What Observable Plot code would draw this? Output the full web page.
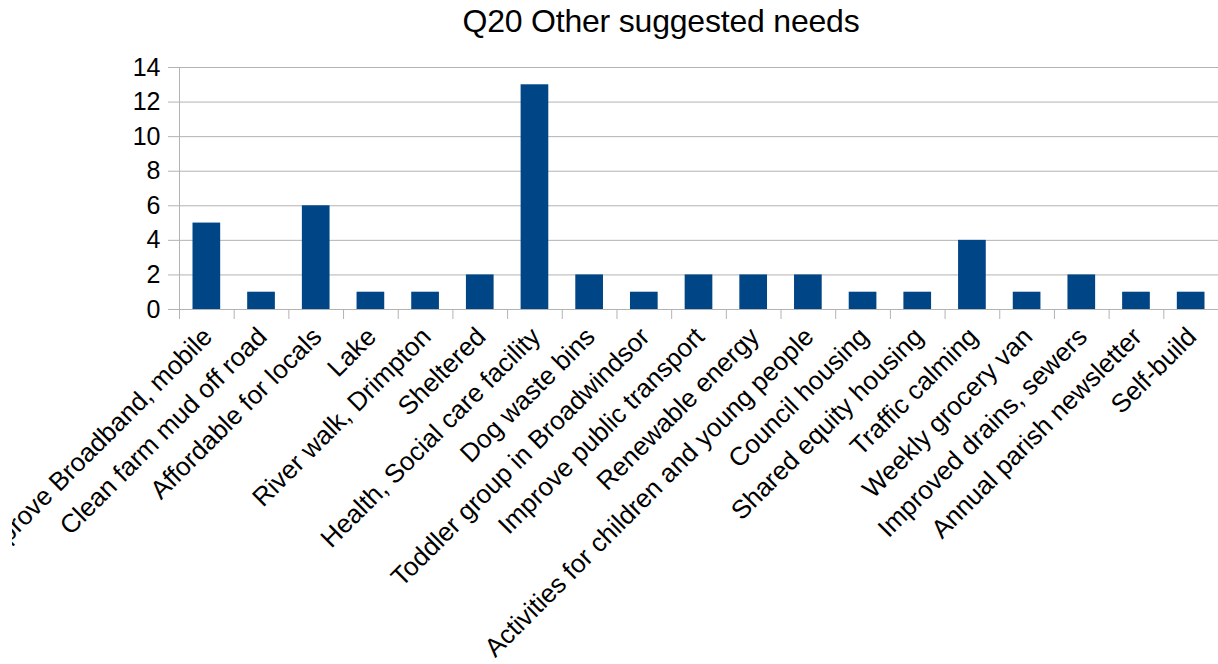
<!DOCTYPE html>
<html>
<head>
<meta charset="utf-8">
<script src="https://cdn.jsdelivr.net/npm/d3@7"></script>
<script src="https://cdn.jsdelivr.net/npm/@observablehq/plot@0.6"></script>
<style>
  html, body { margin: 0; padding: 0; background: #fff; }
  body { width: 1218px; height: 664px; overflow: hidden; font-family: "Liberation Sans", Arial, sans-serif; }
  #title { position: relative; height: 45px; }
  #title span { position: absolute; left: 661px; top: 3px; transform: translateX(-50%); font-size: 32px; white-space: nowrap; color: #000; letter-spacing: -0.2px; }
  #chart svg { clip-path: inset(0 0 0 12px); }
</style>
</head>
<body>
<div id="title"><span>Q20 Other suggested needs</span></div>
<div id="chart"></div>
<script>
const categories = [
  "Improve Broadband, mobile",
  "Clean farm mud off road",
  "Affordable for locals",
  "Lake",
  "River walk, Drimpton",
  "Sheltered",
  "Health, Social care facility",
  "Dog waste bins",
  "Toddler group in Broadwindsor",
  "Improve public transport",
  "Renewable energy",
  "Activities for children and young people",
  "Council housing",
  "Shared equity housing",
  "Traffic calming",
  "Weekly grocery van",
  "Improved drains, sewers",
  "Annual parish newsletter",
  "Self-build"
];
const values = [5, 1, 6, 1, 1, 2, 13, 2, 1, 2, 2, 2, 1, 1, 4, 1, 2, 1, 1];
const yTicks = [0, 2, 4, 6, 8, 10, 12, 14];

const data = categories.map((c, i) => ({category: c, index: i, value: values[i]}));
const n = categories.length;

const chart = Plot.plot({
  width: 1218,
  height: 619,
  marginTop: 22,
  marginBottom: 355,
  marginLeft: 179,
  marginRight: 0,
  style: {fontFamily: "'Liberation Sans', Arial, sans-serif", color: "#000", background: "#fff"},
  x: {type: "linear", domain: [0, n]},
  y: {domain: [0, 14]},
  marks: [
    Plot.ruleY(yTicks, {stroke: "#b3b3b3", strokeWidth: 1, insetLeft: -11}),
    Plot.ruleX([0], {stroke: "#b3b3b3", strokeWidth: 1, insetBottom: -10}),
    Plot.ruleX(d3.range(1, n + 1), {y1: 0, y2: 0, stroke: "#b3b3b3", strokeWidth: 1, insetBottom: -10}),
    Plot.rectY(data, {x1: d => d.index, x2: d => d.index + 1, y: "value", fill: "#004586", insetLeft: 13.5, insetRight: 13.5}),
    Plot.axisY({ticks: yTicks, tickSize: 0, tickPadding: 19, fontSize: 25, label: null, tickFormat: d => String(d)}),
    Plot.axisX({
      ticks: d3.range(n).map(i => i + 0.5),
      tickFormat: d => categories[Math.round(d - 0.5)],
      tickSize: 0,
      tickPadding: 23,
      tickRotate: -45,
      dx: 1,
      fontSize: 26,
      label: null
    })
  ]
});
document.getElementById("chart").appendChild(chart);
</script>
</body>
</html>
